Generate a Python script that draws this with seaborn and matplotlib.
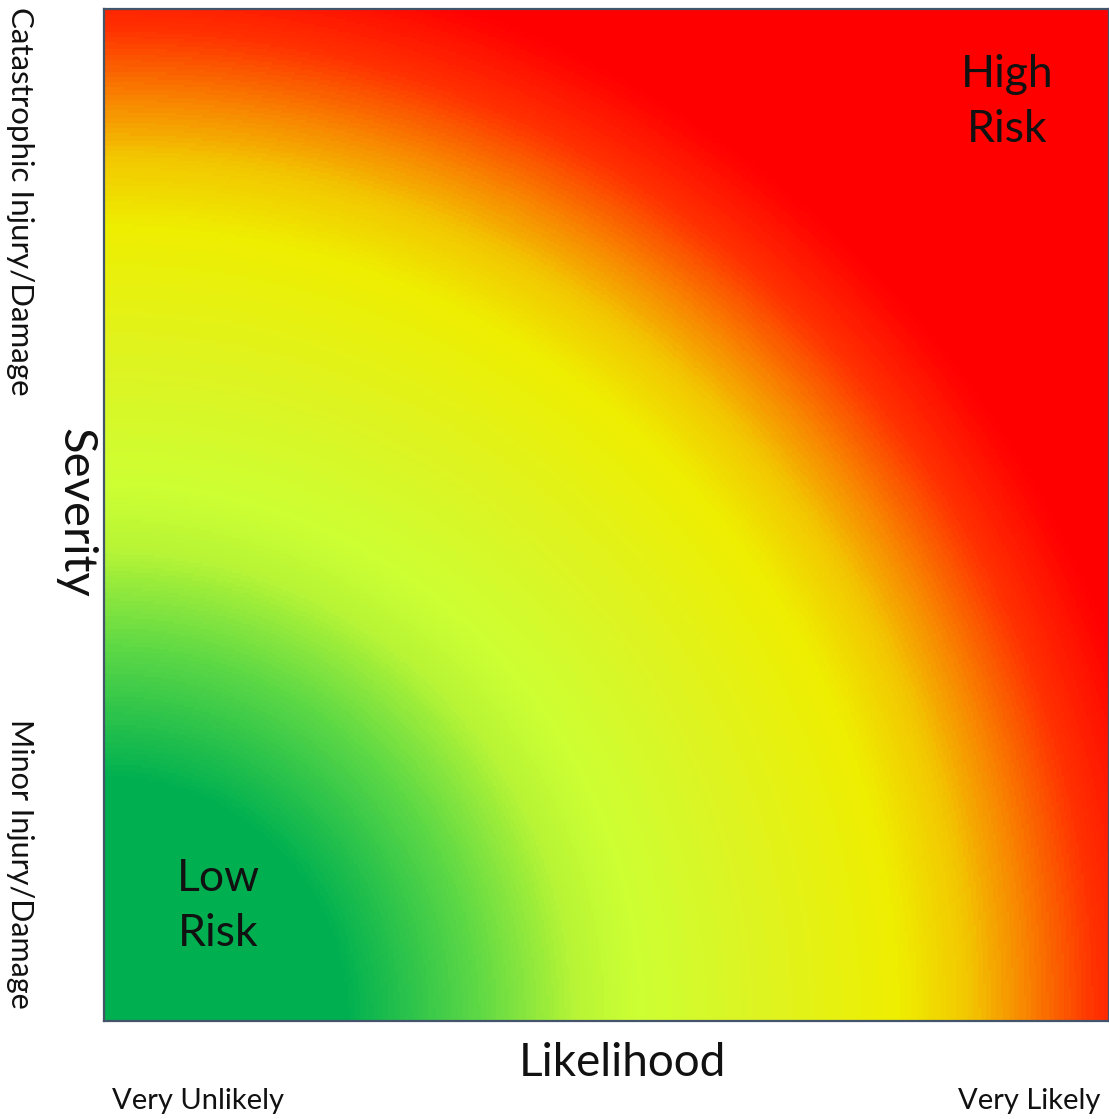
import numpy as np
import matplotlib
matplotlib.use("Agg")
import matplotlib.pyplot as plt
import seaborn as sns
from matplotlib.colors import LinearSegmentedColormap

# Risk gradient: colour stops by distance from the low/low corner
# (distance measured in axis widths)
risk_stops = [0.0, 0.24, 0.37, 0.47, 0.53, 0.65, 0.79, 0.86, 0.92, 0.99, 1.07, 1.45]
risk_colors = ['#00B050', '#00B050', '#5CD845', '#B8F535', '#CCFF33', '#DDF422',
               '#EEEE00', '#F2C800', '#F88400', '#FF3000', '#FF0000', '#FF0000']

x_label = 'Likelihood'
y_label = 'Severity'
x_ends = ['Very Unlikely', 'Very Likely']
y_ends = ['Minor Injury/Damage', 'Catastrophic Injury/Damage']
corner_labels = ['Low\nRisk', 'High\nRisk']

W, H = 1109, 1119
n = 400

sns.set_style('white')
plt.rcParams['font.family'] = ['Lato', 'DejaVu Sans']

fig = plt.figure(figsize=(W / 100, H / 100), dpi=100)
ax = fig.add_axes([104 / W, 98 / H, 1005 / W, 1012 / H])

# grid of distances from bottom-left corner (rows from top to bottom)
xs = np.linspace(0, 1, n)
ys = np.linspace(1012 / 1005, 0, n)
gx, gy = np.meshgrid(xs, ys)
dist = np.sqrt(gx ** 2 + gy ** 2)

cmap = LinearSegmentedColormap.from_list(
    'risk', list(zip(np.array(risk_stops) / risk_stops[-1], risk_colors)))
sns.heatmap(dist, ax=ax, cmap=cmap, vmin=0, vmax=risk_stops[-1], cbar=False,
            xticklabels=False, yticklabels=False, linewidths=0, rasterized=True)

for s in ax.spines.values():
    s.set_visible(True)
    s.set_color('#44546A')
    s.set_linewidth(1.6)

txt = '#111111'
def put(x, y, s, **kw):
    fig.text(x / W, 1 - y / H, s, color=txt, **kw)

put(622, 1063, x_label, fontsize=33, ha='center', va='center')
put(75, 513, y_label, fontsize=34, ha='center', va='center', rotation=270)
put(112, 1101, x_ends[0], fontsize=21, ha='left', va='center')
put(1100, 1101, x_ends[1], fontsize=21, ha='right', va='center')
put(20, 864, y_ends[0], fontsize=22, ha='center', va='center', rotation=270)
put(20, 201, y_ends[1], fontsize=22.5, ha='center', va='center', rotation=270)
put(218, 906, corner_labels[0], fontsize=32, ha='center', va='center', linespacing=1.45)
put(1007, 102, corner_labels[1], fontsize=32, ha='center', va='center', linespacing=1.45)

fig.savefig('out.png', dpi=100)
